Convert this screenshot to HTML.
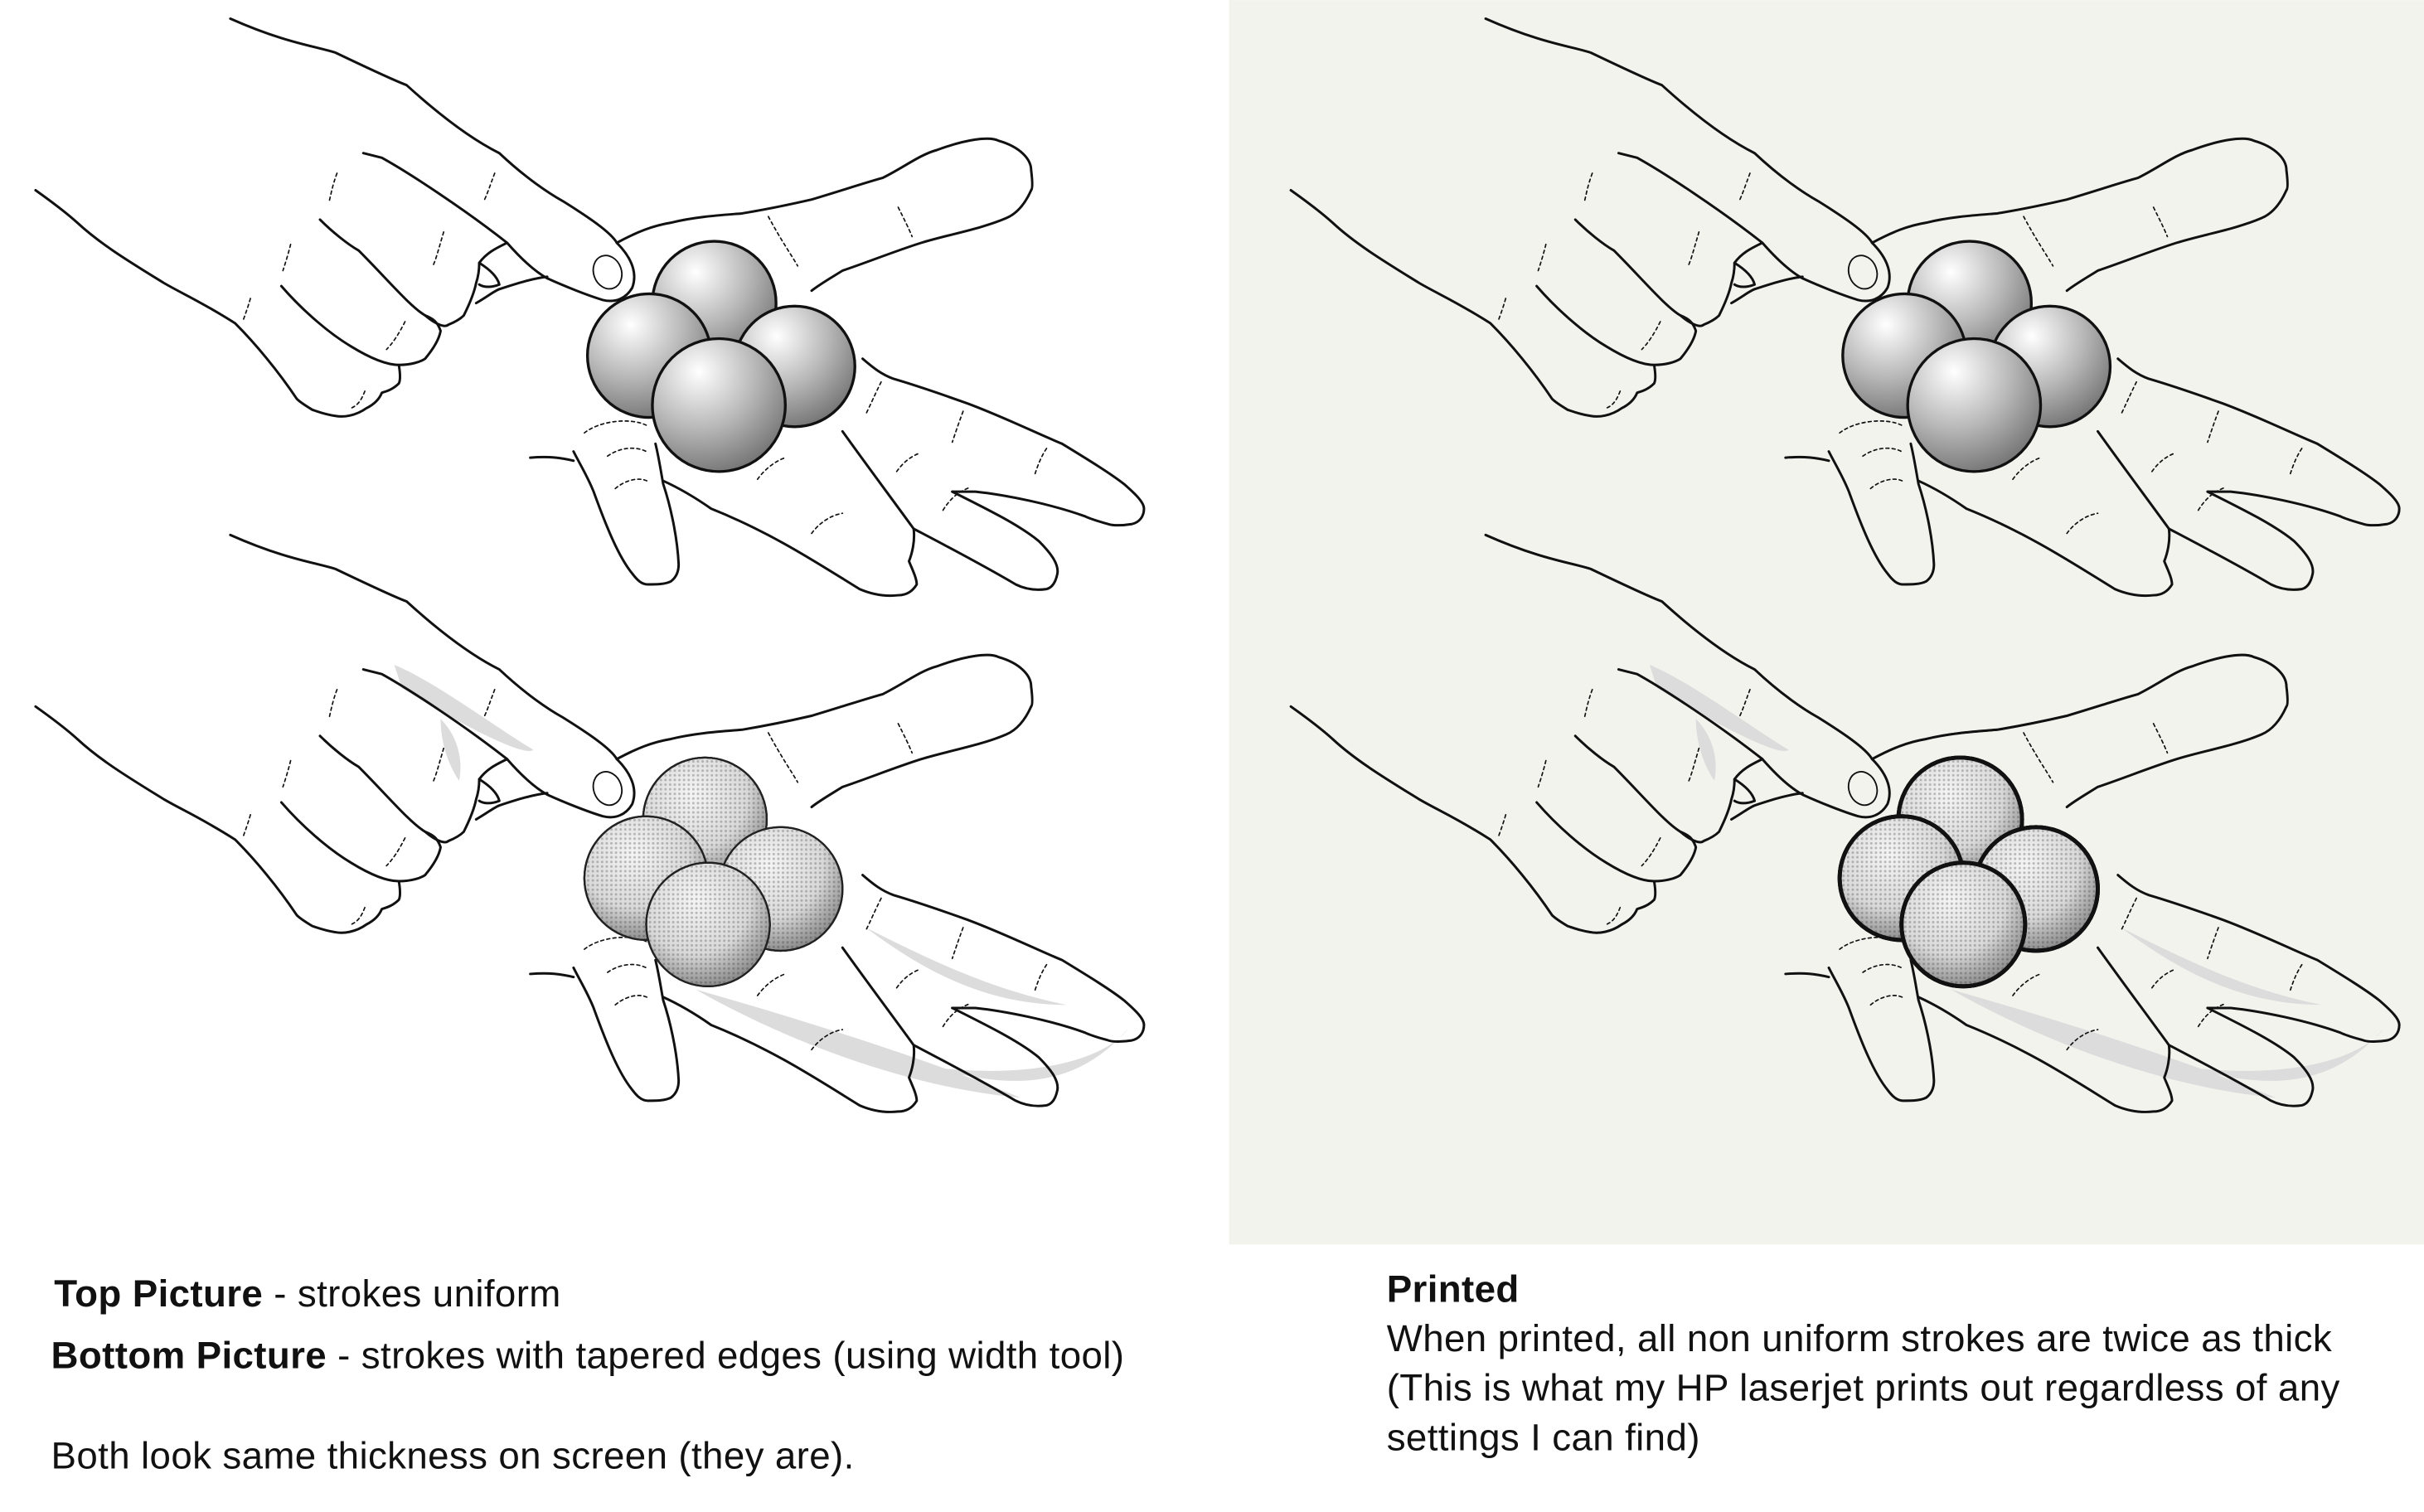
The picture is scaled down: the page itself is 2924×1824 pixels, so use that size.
<!DOCTYPE html>
<html><head><meta charset="utf-8"><style>
html,body{margin:0;padding:0;background:#fff}
svg{display:block}
text{font-family:"Liberation Sans",sans-serif;font-size:24.5px;letter-spacing:0.2px;fill:#111}
</style></head><body>
<svg width="2924" height="1824" viewBox="0 0 1568 978" xmlns="http://www.w3.org/2000/svg">
<defs>
<radialGradient id="g1" cx="0.35" cy="0.25" r="0.85">
<stop offset="0" stop-color="#ffffff"/><stop offset="0.5" stop-color="#b8b8b8"/><stop offset="1" stop-color="#6a6a6a"/>
</radialGradient>
<pattern id="dots" width="3" height="3" patternUnits="userSpaceOnUse">
<circle cx="1.5" cy="1.5" r="0.8" fill="#555"/>
</pattern>
<radialGradient id="g2" cx="0.4" cy="0.3" r="0.8">
<stop offset="0" stop-color="#f4f4f4"/><stop offset="0.6" stop-color="#d6d6d6"/><stop offset="1" stop-color="#bbb"/>
</radialGradient>
<radialGradient id="m2" cx="0.4" cy="0.3" r="0.8">
<stop offset="0" stop-color="#000" stop-opacity="0"/><stop offset="0.55" stop-color="#000" stop-opacity="0"/><stop offset="1" stop-color="#000" stop-opacity="0.6"/>
</radialGradient>
<g id="hand" fill="none" stroke="#111" stroke-width="1.6" stroke-linejoin="round" stroke-linecap="round">
<path d="M149,12 C185,28 205,30 217,34 C240,45 255,52 263,55 C285,75 305,90 323,99 C340,115 355,125 364,130 C380,140 395,150 399,157 C410,168 412,178 409,186 C405,193 398,196 390,194 C380,191 365,185 354,180 C345,175 335,165 328,157 C300,135 265,112 247,102 L235,99"/>
<ellipse cx="393" cy="176" rx="9" ry="11" transform="rotate(-20 393 176)" stroke-width="1"/>
<path d="M207,142 C215,150 225,158 232,162 C250,180 265,198 275,204 C282,210 288,212 290,210 C295,208 298,206 300,204 C304,196 307,188 308,183 C310,177 310,172 310,170 C315,163 322,160 328,157"/>
<path d="M310,170 C318,175 322,180 323,184 C318,186 313,186 310,184"/>
<path d="M308,196 C315,192 320,188 323,187 C335,183 345,180 354,179"/>
<path d="M182,185 C195,200 212,215 227,224 C240,232 250,236 258,236 C266,236 272,234 275,232 C280,226 284,220 285,214 C283,208 280,206 275,204"/>
<path d="M258,236 C259,242 259,246 258,248 C254,252 250,253 247,254 C245,259 241,262 237,264 C230,269 222,270 217,269 C210,268 205,266 202,265 C197,262 194,260 192,258 C180,240 165,222 152,209 C130,195 118,190 106,183 C85,170 65,158 50,144 C40,135 30,128 23,123"/>
<path d="M399,157 C412,150 422,146 434,144 C450,140 468,139 480,138 C498,135 512,132 525,129 C545,123 560,118 571,115 C585,108 595,100 606,97 C625,90 640,88 646,91 C660,95 667,103 667,110 C668,118 668,122 667,123 C663,132 658,138 651,141 C635,148 612,152 596,157 C580,162 560,170 545,175 C537,180 530,184 525,188"/>
<path d="M558,232 C565,238 570,242 578,245 C595,250 612,256 626,261 C650,270 670,280 687,287 C705,298 718,306 727,313 C735,320 740,325 740,329 C740,334 737,338 732,339 C726,340 720,340 717,339 C710,337 706,336 702,334 C680,326 650,320 631,318 L616,318"/>
<path d="M616,318 C640,330 660,340 672,350 C680,358 685,365 684,371 C683,376 681,380 677,381 C670,382 663,381 657,378 C635,365 610,352 591,342 C575,320 560,300 545,279"/>
<path d="M591,342 C592,350 590,358 588,363 C590,368 593,374 593,378 C590,383 586,385 581,385 C572,386 563,384 556,381 C530,365 500,345 460,329 C450,322 440,316 429,311"/>
<path d="M371,292 C375,300 380,308 384,318 C392,340 400,360 409,371 C412,375 415,378 419,378 C425,378 430,378 434,376 C438,373 439,369 439,365 C438,345 433,325 429,313 C427,302 426,295 424,287"/>
<path d="M343,296 C355,295 363,296 371,298"/>
<g stroke-width="0.9" stroke-dasharray="2,2">
<path d="M218,112 C215,120 214,126 213,130"/><path d="M320,112 C317,120 315,126 313,130"/>
<path d="M188,158 C186,166 184,172 183,175"/><path d="M287,150 C284,160 282,168 280,172"/>
<path d="M162,193 C160,200 158,205 157,208"/><path d="M262,208 C258,216 254,222 250,226"/>
<path d="M236,253 C234,258 232,262 227,264"/>
<path d="M497,140 C505,155 512,165 516,172"/><path d="M581,134 C585,142 588,148 590,153"/>
<path d="M570,247 C566,255 563,262 560,268"/><path d="M623,266 C620,274 618,280 616,286"/>
<path d="M677,290 C673,296 671,302 669,308"/><path d="M378,280 C388,272 408,270 418,275"/>
<path d="M393,295 C400,290 410,288 418,292"/><path d="M398,316 C405,310 415,308 420,312"/>
<path d="M490,310 C495,303 502,298 508,296"/><path d="M525,345 C530,338 538,333 545,332"/>
<path d="M580,305 C585,298 590,295 595,293"/><path d="M610,330 C615,322 620,318 628,315"/>
</g>
</g>
<g id="ballsA" stroke="#111" stroke-width="1.8" fill="url(#g1)">
<circle cx="462" cy="196" r="40"/><circle cx="420" cy="230" r="40"/><circle cx="514" cy="237" r="39"/><circle cx="465" cy="262" r="43"/>
</g>
<g id="ballS">
<circle r="40" fill="url(#g2)"/><circle r="40" fill="url(#dots)" opacity="0.35"/><circle r="40" fill="url(#m2)" opacity="0.6"/><circle r="40" fill="none"/>
</g>
<g id="shade" fill="#dcdcdc" stroke="none">
<path d="M255,430 C280,440 320,470 345,485 C340,490 300,470 260,445 Z"/>
<path d="M285,465 C295,475 300,490 297,505 C290,495 285,480 285,465 Z"/>
<path d="M450,640 C520,660 600,685 660,710 C600,705 520,680 450,640 Z"/>
<path d="M600,690 C640,700 690,712 730,665 C720,680 680,700 600,690 Z"/>
<path d="M560,600 C600,620 640,640 690,650 C640,650 600,630 560,600 Z"/>
</g>
</defs>
<rect x="795" y="0" width="773" height="805" fill="#f3f3ee"/>
<use href="#hand"/><use href="#ballsA"/>
<use href="#shade"/>
<g transform="translate(0,334)"><use href="#hand"/></g>
<g stroke="#222" stroke-width="1.2">
<use href="#ballS" x="456" y="530"/><use href="#ballS" x="418" y="568"/><use href="#ballS" x="505" y="575"/><use href="#ballS" x="458" y="598"/>
</g>
<g transform="translate(812,0)"><use href="#hand"/><use href="#ballsA"/></g>
<g transform="translate(812,0)"><use href="#shade"/></g>
<g transform="translate(812,334)"><use href="#hand"/></g>
<g transform="translate(812,334)" fill="none" stroke="#111" stroke-width="1.4">
<path d="M149,12 C185,28 205,30 217,34 C240,45 255,52 263,55 C285,75 305,90 323,99 C340,115 355,125 364,130 C380,140 395,150 399,157"/>
<path d="M399,157 C412,150 422,146 434,144 C450,140 468,139 480,138 C498,135 512,132 525,129 C545,123 560,118 571,115 C585,108 595,100 606,97 C625,90 640,88 646,91 C660,95 667,103 667,110"/>
<path d="M258,248 C254,252 250,253 247,254 C245,259 241,262 237,264 C230,269 222,270 217,269 C210,268 205,266 202,265 C197,262 194,260 192,258 C180,240 165,222 152,209 C130,195 118,190 106,183 C85,170 65,158 50,144 C40,135 30,128 23,123"/>
</g>
<g transform="translate(812,0)" stroke="#111" stroke-width="2.6">
<use href="#ballS" x="456" y="530"/><use href="#ballS" x="418" y="568"/><use href="#ballS" x="505" y="575"/><use href="#ballS" x="458" y="598"/>
</g>
<text x="35" y="845"><tspan font-weight="bold">Top Picture</tspan> - strokes uniform</text>
<text x="33" y="885"><tspan font-weight="bold">Bottom Picture</tspan> - strokes with tapered edges (using width tool)</text>
<text x="33" y="950">Both look same thickness on screen (they are).</text>
<text x="897" y="842" font-weight="bold">Printed</text>
<text x="897" y="874">When printed, all non uniform strokes are twice as thick</text>
<text x="897" y="906">(This is what my HP laserjet prints out regardless of any</text>
<text x="897" y="938">settings I can find)</text>
</svg>
</body></html>
